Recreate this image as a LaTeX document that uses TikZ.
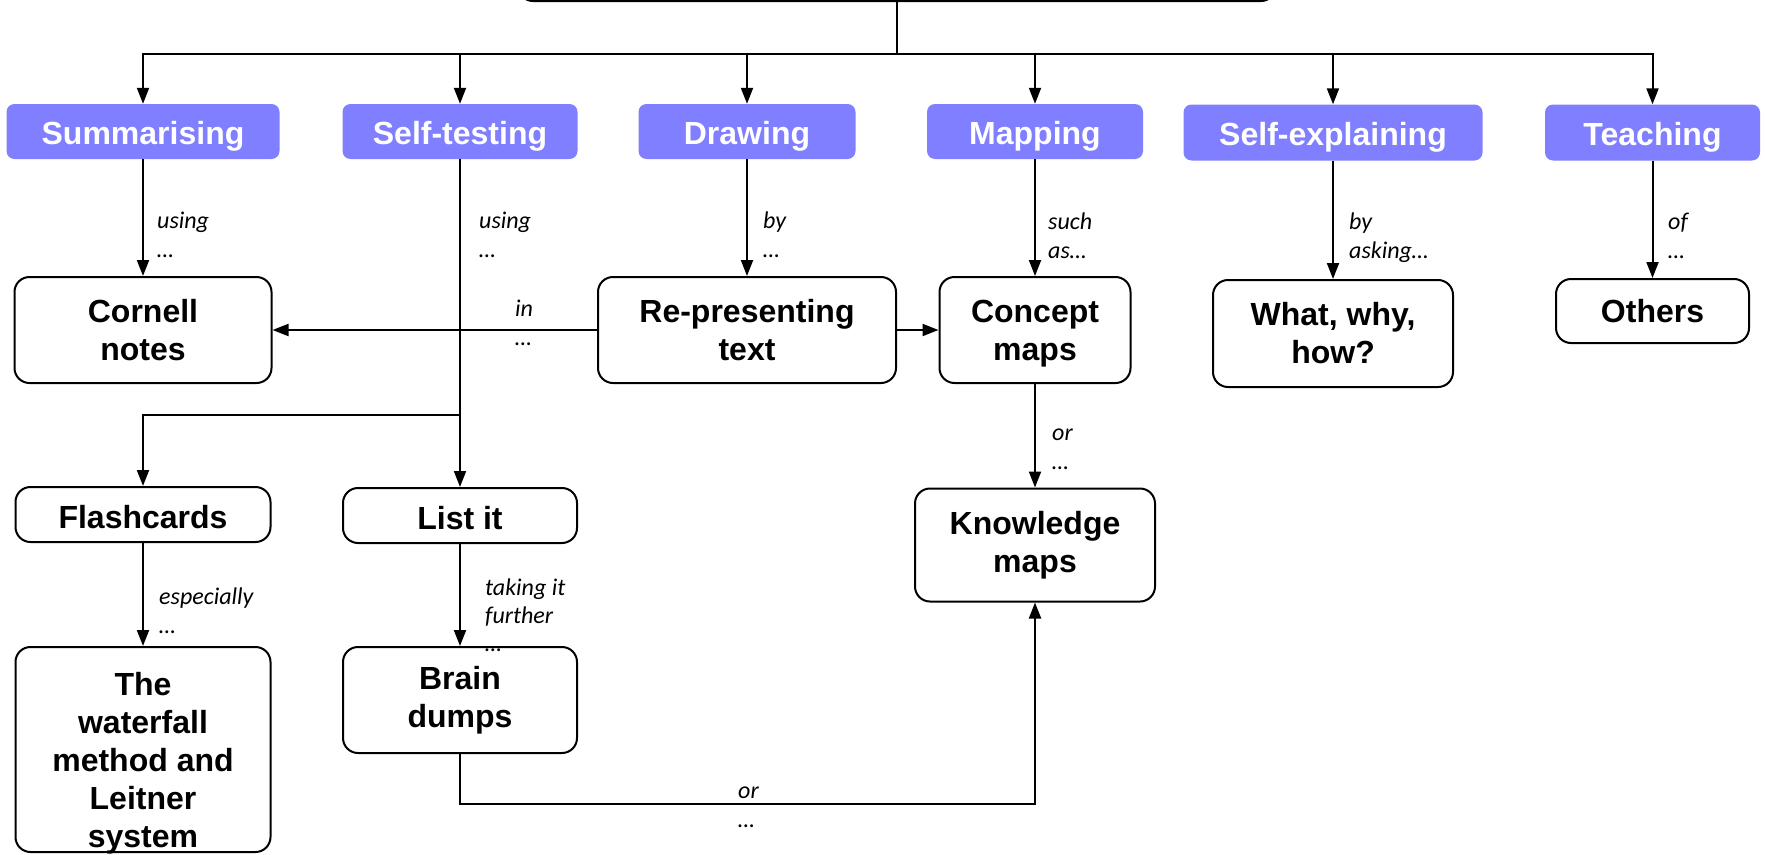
\documentclass[tikz,border=0pt]{standalone}
\usepackage{fontspec}
\setmainfont{Liberation Sans}
\newfontfamily\carl{Carlito}
\usetikzlibrary{arrows.meta}
\definecolor{bluefill}{RGB}{127,127,255}
\newcommand\lbtwo[2]{\vtop{\baselineskip=29pt\hbox{#1}\hbox{#2}}}
\newcommand\lbthree[3]{\vtop{\baselineskip=28pt\hbox{#1}\hbox{#2}\hbox{#3}}}
\begin{document}
\begin{tikzpicture}[x=1pt,y=-1pt,
  ar/.style={line width=2pt,-{Triangle[length=16pt,width=12pt]}},
  ln/.style={line width=2pt},
  cat/.style={fill=bluefill, rounded corners=8pt, text=white, font=\bfseries\fontsize{32}{38}\selectfont, inner sep=0pt, text height=25.6pt, text depth=0pt},
  wbox/.style={draw, line width=2pt, rounded corners=15pt, font=\bfseries\fontsize{32}{38}\selectfont, align=center, inner sep=0pt},
  lbl/.style={anchor=base west, inner sep=0pt, font=\carl\itshape\fontsize{24}{29}\selectfont}
]
\useasboundingbox (0,0) rectangle (1766,854);
\clip (0,0) rectangle (1766,854);

% top (cropped) box
\node[draw, line width=2pt, rounded corners=15pt, minimum width=758pt, minimum height=80pt, inner sep=0pt] (top) at (897,-39) {};

% category boxes
\node[cat, minimum width=273pt, minimum height=55pt] (summ) at (143,131.5) {Summarising};
\node[cat, minimum width=235pt, minimum height=55pt] (selft) at (460,131.5) {Self-testing};
\node[cat, minimum width=217pt, minimum height=55pt] (draw) at (747,131.5) {Drawing};
\node[cat, minimum width=216pt, minimum height=55pt] (mapp) at (1035,131.5) {Mapping};
\node[cat, minimum width=299pt, minimum height=56pt] (selfe) at (1333,132.5) {Self-explaining};
\node[cat, minimum width=215pt, minimum height=56pt] (teach) at (1652.5,132.5) {Teaching};

% white boxes
\node[wbox, minimum width=257pt, minimum height=106pt] (cornell) at (143,330) {Cornell\\notes};
\node[wbox, minimum width=298pt, minimum height=106pt] (repr) at (747,330) {Re-presenting\\text};
\node[wbox, minimum width=191pt, minimum height=106pt] (concept) at (1035,330) {\rule{0pt}{30pt}Concept\\maps};
\node[wbox, minimum width=240pt, minimum height=107pt] (what) at (1333,333.5) {What, why,\\how?};
\node[wbox, minimum width=193pt, minimum height=64pt] (others) at (1652.5,311) {Others};
\node[wbox, minimum width=240pt, minimum height=113pt] (know) at (1035,545) {Knowledge\\maps};
\node[wbox, minimum width=255pt, minimum height=55pt] (flash) at (143,514.5) {\rule{0pt}{29pt}Flashcards};
\node[wbox, minimum width=234pt, minimum height=55pt] (list) at (460,515.5) {\rule{0pt}{29pt}List it};
\node[wbox, minimum width=255pt, minimum height=205pt] (water) at (143,749.5) {};
\node[anchor=base, inner sep=0pt, font=\bfseries\fontsize{32}{38}\selectfont] (watertext) at (143,695)
  {\begin{tabular}[t]{@{}c@{}}The\\waterfall\\method and\\Leitner\\system\end{tabular}};
\node[wbox, minimum width=234pt, minimum height=106pt] (brain) at (460,700) {Brain\\dumps};

% connectors from the top box
\draw[ln] (top.south) -- ++(0,52) coordinate (hub);
\draw[ar] (hub) -| (summ.north);
\draw[ar] (hub) -| (selft.north);
\draw[ar] (hub) -| (draw.north);
\draw[ar] (hub) -| (mapp.north);
\draw[ar] (hub) -| (selfe.north);
\draw[ar] (hub) -| (teach.north);

% second level
\draw[ar] (summ.south) -- (cornell.north);
\draw[ar] (draw.south) -- (repr.north);
\draw[ar] (mapp.south) -- (concept.north);
\draw[ar] (selfe.south) -- (what.north);
\draw[ar] (teach.south) -- (others.north);
\draw[ar] (repr.west) -- (cornell.east);
\draw[ar] (repr.east) -- (concept.west);
\draw[ar] (concept.south) -- (know.north);

% self-testing branch
\draw[ar] (selft.south) -- (list.north);
\coordinate (stj) at (460,415);
\draw[ar] (stj) -| (flash.north);
\draw[ar] (flash.south) -- (water.north);
\draw[ar] (list.south) -- (brain.north);
\draw[ar] (brain.south) -- ++(0,50) -| (know.south);

% labels
\node[lbl] (l1) at (157,228) {\lbtwo{using}{…}};
\node[lbl] (l2) at (479,228) {\lbtwo{using}{…}};
\node[lbl] (l3) at (763,228) {\lbtwo{by}{…}};
\node[lbl] (l4) at (515,316) {\lbtwo{in}{…}};
\node[lbl] (l5) at (1048,229) {\lbtwo{such}{as…}};
\node[lbl] (l6) at (1349,229) {\lbtwo{by}{asking…}};
\node[lbl] (l7) at (1668,229) {\lbtwo{of}{…}};
\node[lbl] (l8) at (1052,440) {\lbtwo{or}{…}};
\node[lbl] (l9) at (159,604) {\lbtwo{especially}{…}};
\node[lbl] (l10) at (485,595) {\lbthree{taking it}{further}{…}};
\node[lbl] (l11) at (738,798) {\lbtwo{or}{…}};
\end{tikzpicture}
\end{document}
